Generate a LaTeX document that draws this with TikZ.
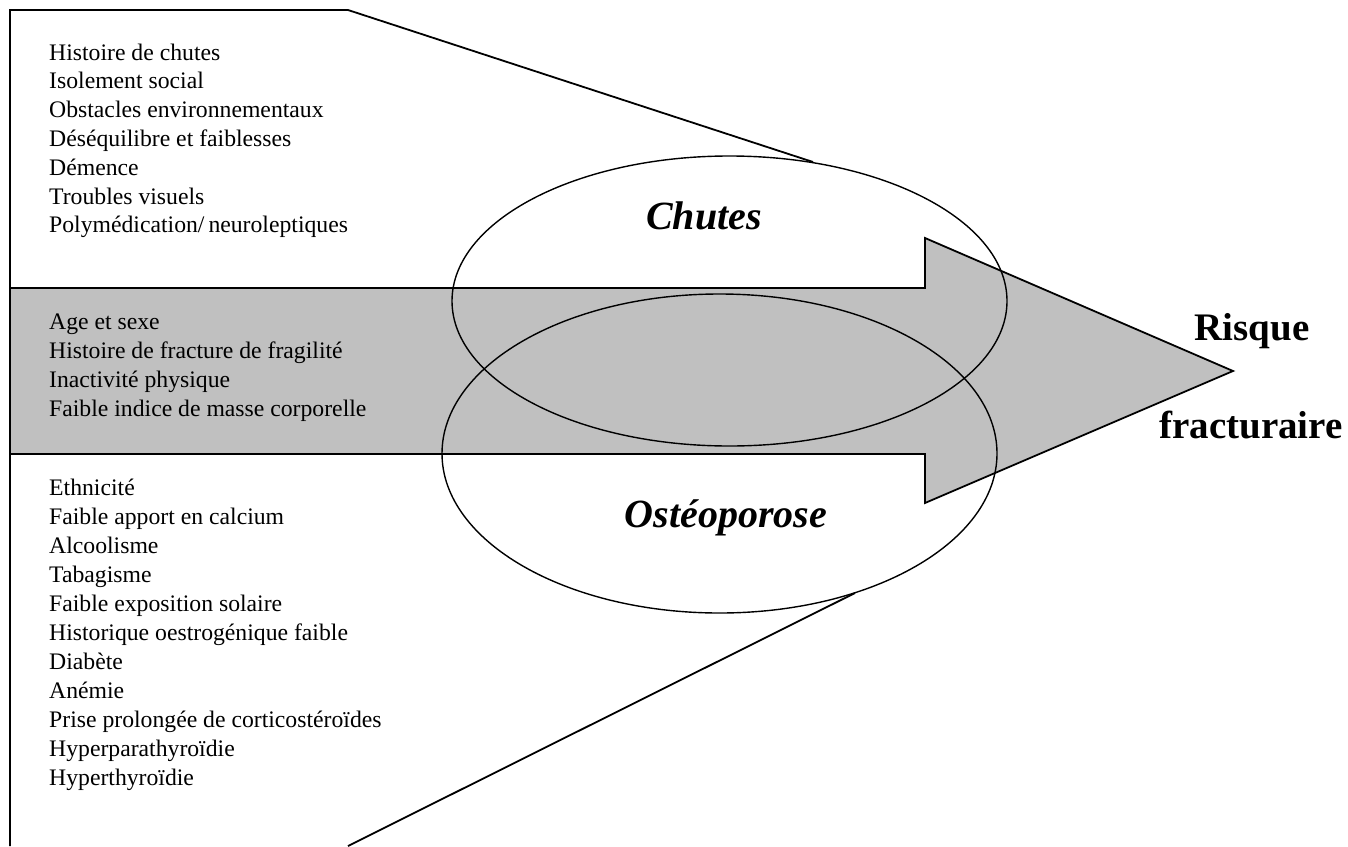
\documentclass[tikz,border=0pt]{standalone}
\usepackage{fontspec}
\setmainfont{Liberation Serif}
\usetikzlibrary{shapes.geometric}
\definecolor{bandgray}{gray}{0.753}
\begin{document}
\begin{tikzpicture}[x=1pt,y=-1pt,
  frame/.style={draw=black, line width=1.8pt, line join=miter},
  band/.style={fill=bandgray, draw=black, line width=1.8pt, line join=miter},
  oval/.style={ellipse, draw=black, line width=1.4pt, inner sep=0pt, minimum width=555pt},
  item/.style={anchor=base west, inner sep=0pt, font=\fontsize{23.7}{29}\selectfont},
  bigit/.style={anchor=base, inner sep=0pt, font=\fontsize{40}{48}\selectfont\bfseries\itshape},
  bigbf/.style={anchor=base, inner sep=0pt, font=\fontsize{39}{48}\selectfont\bfseries}]
\useasboundingbox (0,0) rectangle (1348,846);

% grey arrow
\draw[band] (10,288) -- (925,288) -- (925,238) -- (1233,371) -- (925,503) -- (925,454) -- (10,454) -- cycle;

% ellipses
\node[oval, minimum height=290pt] (chutes) at (729.5,301) {};
\node[oval, minimum height=319pt] (osteo) at (719.5,453.5) {};

% frame lines
\coordinate (ftop) at (813,162);
\coordinate (fbot) at (855,593);
\draw[frame] (ftop) -- (348,10) -- (10,10) -- (10,846);
\draw[frame] (348,846) -- (fbot);

% labels
\node[bigit] (lchutes) at (704,229) {Chutes};
\node[bigit] (losteo) at (726,527) {Ostéoporose};
\node[bigbf] (risque) at (1252,340) {Risque};
\node[bigbf] (fract) at (1251,438) {fracturaire};

% top list
\foreach \t [count=\i] in {Histoire de chutes, Isolement social, Obstacles environnementaux, Déséquilibre et faiblesses, Démence, Troubles visuels, Polymédication/\,neuroleptiques}
  \node[item] (a\i) at (49,{60+28.8*(\i-1)}) {\t};

% band list
\foreach \t [count=\i] in {Age et sexe, Histoire de fracture de fragilité, Inactivité physique, Faible indice de masse corporelle}
  \node[item] (b\i) at (49,{329+29.2*(\i-1)}) {\t};

% bottom list
\foreach \t [count=\i] in {Ethnicité, Faible apport en calcium, Alcoolisme, Tabagisme, Faible exposition solaire, Historique oestrogénique faible, Diabète, Anémie, Prise prolongée de corticostéroïdes, Hyperparathyroïdie, Hyperthyroïdie}
  \node[item] (c\i) at (49,{495+29*(\i-1)}) {\t};
\end{tikzpicture}
\end{document}
